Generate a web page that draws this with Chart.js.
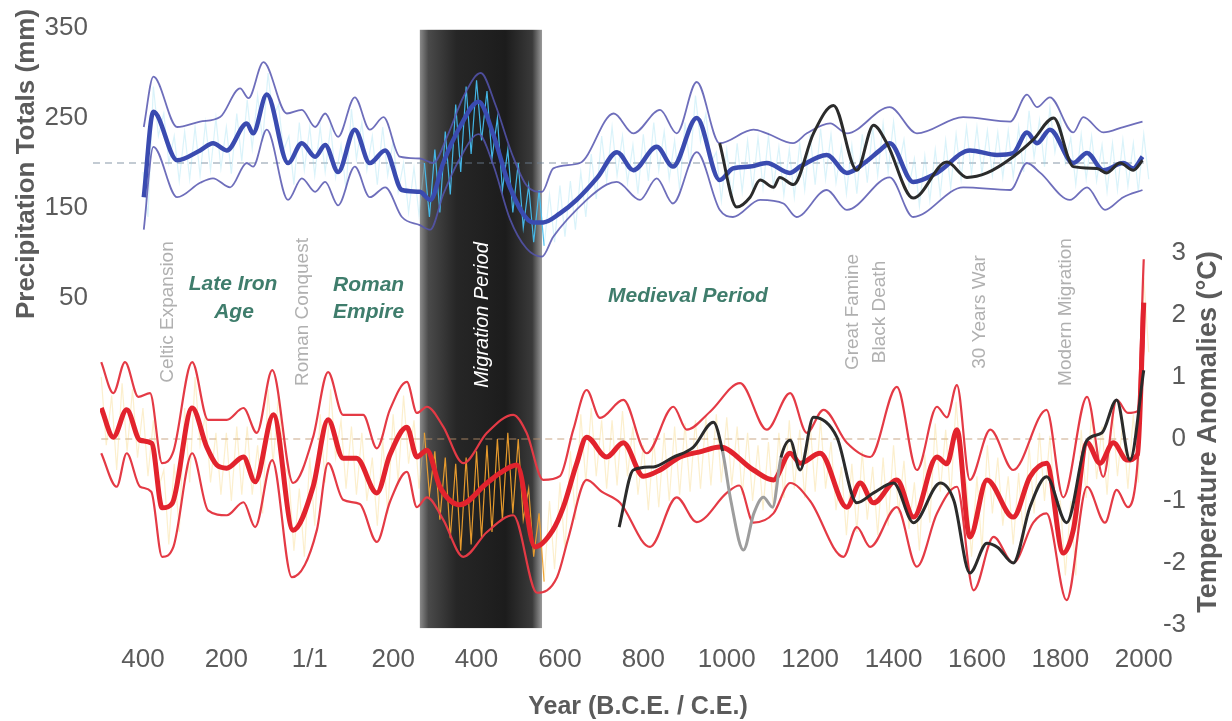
<!DOCTYPE html>
<html>
<head>
<meta charset="utf-8">
<script src="https://cdn.jsdelivr.net/npm/chart.js@4.4.1/dist/chart.umd.min.js"></script>
<style>
  html, body { margin: 0; padding: 0; background: #fff; }
  #wrap { width: 1232px; height: 721px; position: relative; }
</style>
</head>
<body>
<div id="wrap"><canvas id="chart"></canvas></div>
<script>
// ---- data (years CE, negative = BCE) ----
const xTicks = [-400, -200, 0, 200, 400, 600, 800, 1000, 1200, 1400, 1600, 1800, 2000];
const precipTicks = [50, 150, 250, 350];
const tempTicks = [-3, -2, -1, 0, 1, 2, 3];

// precipitation, 60-yr smoothed (mm)
const precipYears = [-398,-375,-318,-263,-232,-199,-151,-136,-103,-52,-19,13,37,68,108,144,181,221,264,289,320,360,405,440,480,536,560,600,640,690,737,776,832,871,928,983,1015,1056,1096,1151,1176,1240,1288,1330,1367,1391,1447,1504,1583,1648,1687,1720,1744,1775,1831,1864,1903,1951,1975,1997];
const precipSmooth = [162,257,203,214,222,214,244,233,276,200,222,207,220,190,237,200,214,170,168,159,200,240,268,232,173,134,134,144,159,184,212,192,218,196,250,181,194,196,200,189,196,209,189,200,214,222,179,189,214,209,211,234,222,237,200,211,192,200,194,207];

const precipUpperYears = [-398,-375,-318,-263,-215,-167,-147,-111,-55,-19,13,37,68,108,144,177,216,264,296,330,370,410,445,485,520,557,584,648,729,776,840,880,928,983,1064,1096,1159,1192,1248,1288,1391,1456,1567,1680,1720,1744,1775,1831,1855,1903,1951,1997];
const precipUpper = [240,296,240,246,251,283,272,312,255,259,240,255,229,273,237,251,207,205,200,230,275,300,265,210,175,168,194,200,255,233,259,233,290,222,237,233,222,233,244,233,262,233,251,246,276,262,273,234,251,234,240,246];

const precipLowerYears = [-398,-375,-318,-263,-232,-191,-151,-136,-103,-52,-19,13,37,68,108,144,181,221,264,289,320,360,405,440,480,520,557,584,664,712,736,792,832,871,928,983,1015,1080,1136,1167,1240,1288,1391,1447,1567,1680,1720,1752,1823,1864,1907,1951,1997];
const precipLower = [126,218,162,178,183,173,200,196,237,159,183,168,179,153,196,162,173,140,131,126,165,205,232,198,138,105,96,118,159,176,179,159,183,155,212,148,140,159,155,140,170,148,184,140,173,170,200,189,159,173,148,162,170];

// second precipitation record (black)
const precipBlackYears = [983,1024,1056,1080,1112,1127,1160,1208,1256,1312,1352,1384,1447,1528,1576,1624,1687,1735,1784,1831,1888,1911,1943,1975,1997];
const precipBlack = [222,151,162,181,173,184,176,233,264,192,242,222,161,201,184,189,207,226,250,196,194,189,200,192,203];

// temperature anomalies, 60-yr smoothed (deg C)
const tempYears = [-500,-471,-439,-407,-379,-354,-330,-282,-247,-223,-199,-159,-131,-87,-40,8,44,80,112,161,192,233,257,281,312,360,425,456,497,540,583,608,640,664,712,752,800,840,888,940,983,1064,1112,1152,1176,1224,1288,1320,1352,1408,1448,1504,1528,1552,1583,1624,1687,1727,1767,1807,1831,1864,1895,1927,1960,1985,2000];
const tempSmooth = [0.5,0.03,0.47,-0.02,-0.07,-1.11,-1.04,0.5,-0.13,-0.42,-0.47,-0.29,-0.69,0.39,-1.47,-0.77,0.31,-0.31,-0.31,-0.87,-0.26,0.19,-0.29,-0.18,-0.77,-1.06,-0.71,-0.55,-0.42,-1.74,-1.47,-1.1,-0.4,0.03,-0.29,-0.06,-0.6,-0.5,-0.29,-0.2,-0.13,-0.5,-0.66,-0.23,-0.39,-0.23,-1.1,-0.71,-1.03,-0.66,-1.26,-0.29,-0.4,0.15,-1.58,-0.66,-1.26,-0.61,-0.39,-1.84,-1.47,-0.06,-0.39,-0.06,-0.34,-0.25,2.2];

const tempUpperYears = [-500,-471,-443,-411,-383,-354,-327,-282,-244,-199,-159,-127,-90,-40,8,44,80,128,161,192,233,257,281,320,368,425,488,520,560,600,632,664,696,752,808,872,904,960,1032,1096,1152,1192,1232,1288,1344,1408,1456,1504,1528,1552,1583,1632,1687,1767,1807,1864,1903,1935,1962,1985,2000];
const tempUpper = [1.24,0.74,1.24,0.68,0.74,-0.39,-0.2,1.24,0.31,0.31,0.5,0.1,1.11,-0.71,0.03,1.08,0.39,0.39,-0.15,0.47,0.92,0.42,0.52,0.2,-0.39,0.1,0.39,0.1,-0.66,-0.6,0.15,0.79,0.34,0.63,-0.23,0.52,0.15,0.44,0.9,0.15,0.74,0.1,0.47,-0.06,-0.29,0.84,-0.5,0.52,0.35,0.87,-0.66,0.15,-0.5,0.47,-0.94,0.68,-0.61,0.63,0.42,0.45,2.9];

const tempLowerYears = [-500,-463,-439,-407,-380,-354,-327,-282,-244,-199,-159,-131,-90,-43,17,44,80,120,161,192,233,257,281,320,368,425,488,545,593,620,664,700,744,816,880,928,1000,1030,1064,1112,1152,1200,1280,1312,1344,1408,1456,1504,1552,1592,1640,1687,1735,1767,1815,1864,1907,1935,1962,1985,2000];
const tempLower = [-0.23,-0.77,-0.23,-0.77,-0.85,-1.9,-1.74,-0.23,-1.15,-1.23,-1.02,-1.42,-0.34,-2.23,-1.47,-0.39,-0.98,-1.05,-1.66,-1.02,-0.53,-1.1,-0.94,-1.3,-1.9,-1.5,-1.23,-2.48,-2.23,-1.6,-0.66,-0.85,-1.03,-1.74,-0.94,-1.34,-0.87,-0.75,-1.35,-1.2,-0.71,-1.0,-1.9,-1.42,-1.74,-1.1,-2.06,-1.2,-0.77,-2.44,-1.58,-2.0,-1.35,-1.2,-2.6,-0.77,-1.35,-0.82,-1.1,-0.4,1.6];

// second temperature record (black, grey where faded)
const tempBlackYears = [742,776,824,870,920,968,990,1010,1040,1065,1088,1110,1130,1152,1176,1208,1264,1312,1352,1400,1448,1512,1545,1583,1624,1650,1687,1727,1767,1815,1864,1900,1935,1967,2000];
const tempBlack = [-1.42,-0.5,-0.45,-0.3,-0.13,0.27,-0.2,-1.0,-1.79,-1.2,-0.94,-1.1,-0.3,-0.02,-0.5,0.35,0.03,-1.03,-0.87,-0.71,-1.35,-0.71,-1.0,-2.16,-1.68,-1.75,-2.0,-1.1,-0.61,-1.35,-0.02,0.1,0.63,-0.34,1.11];

// annual spread, high / low per 25-yr step
const noiseYears = [-500,-475,-450,-425,-400,-375,-350,-325,-300,-275,-250,-225,-200,-175,-150,-125,-100,-75,-50,-25,0,25,50,75,100,125,150,175,200,225,250,275,300,325,350,375,400,425,450,475,500,525,550,575,600,625,650,675,700,725,750,775,800,825,850,875,900,925,950,975,1000,1025,1050,1075,1100,1125,1150,1175,1200,1225,1250,1275,1300,1325,1350,1375,1400,1425,1450,1475,1500,1525,1550,1575,1600,1625,1650,1675,1700,1725,1750,1775,1800,1825,1850,1875,1900,1925,1950,1975,2000];
const precipNoiseHi = [190,285,255,230,235,240,245,250,240,255,270,275,300,265,230,245,240,240,240,220,260,245,230,240,225,200,195,200,215,235,265,285,292,280,250,215,200,175,170,165,175,180,190,210,230,240,230,220,232,245,235,225,245,275,255,212,215,222,225,228,230,218,215,222,232,238,232,218,220,232,240,244,246,226,205,208,215,225,232,240,240,236,234,236,240,258,248,262,250,228,232,230,220,222,226,222,232];
const precipNoiseLo = [140,230,200,180,182,186,192,194,188,202,216,224,250,214,176,192,186,190,184,170,204,192,176,186,168,145,142,140,145,165,190,210,225,205,170,145,128,112,108,112,118,126,140,160,180,186,178,166,180,192,182,170,196,224,200,158,160,168,170,172,174,164,162,170,176,182,178,166,166,178,186,190,194,174,152,158,164,172,182,188,188,186,184,184,190,206,196,212,200,176,182,180,168,170,174,168,182];
const tempNoiseHi = [1.0,0.7,0.9,0.8,0.5,0.3,-0.5,-0.4,0.5,1.0,0.4,0.1,0.1,0.2,0.2,-0.1,0.8,0.7,-0.6,-0.8,-0.3,0.4,0.8,0.3,0.2,0.1,-0.3,0.0,0.4,0.7,0.3,0.1,-0.2,-0.3,-0.4,-0.3,-0.2,-0.1,0.0,0.1,0.0,-0.8,-1.2,-1.0,-0.7,-0.2,0.4,0.5,0.3,0.3,0.45,0.2,-0.1,0.0,0.1,0.2,0.25,0.3,0.35,0.4,0.35,0.2,0.1,-0.1,-0.05,0.1,0.3,0.15,0.25,0.3,-0.05,-0.45,-0.4,-0.2,-0.45,-0.3,-0.1,-0.35,-0.7,-0.25,0.25,0.15,0.6,-0.7,-0.6,-0.1,-0.3,-0.6,-0.55,-0.1,0.1,0.05,-1.0,-1.0,0.15,0.45,0.2,0.45,0.3,0.4,2.6];
const tempNoiseLo = [-0.1,-0.5,-0.2,-0.3,-0.6,-0.8,-1.7,-1.5,-0.7,-0.1,-0.7,-0.9,-1.0,-0.9,-0.9,-1.2,-0.4,-0.4,-1.8,-1.9,-1.4,-0.7,-0.3,-0.8,-0.9,-1.0,-1.4,-1.2,-0.7,-0.4,-0.8,-0.9,-1.3,-1.6,-1.8,-1.7,-1.6,-1.5,-1.3,-1.2,-1.3,-1.9,-2.3,-2.1,-1.8,-1.3,-0.7,-0.6,-0.8,-0.75,-0.6,-0.9,-1.15,-1.1,-1.0,-0.9,-0.85,-0.8,-0.75,-0.7,-0.75,-0.9,-1.0,-1.15,-1.15,-0.95,-0.8,-0.95,-0.85,-0.8,-1.15,-1.55,-1.5,-1.3,-1.55,-1.4,-1.2,-1.45,-1.8,-1.35,-0.85,-0.95,-0.45,-1.9,-1.8,-1.2,-1.4,-1.7,-1.65,-1.2,-1.0,-1.05,-2.2,-2.2,-0.95,-0.65,-0.9,-0.6,-0.8,-0.7,1.4];

// shaded Migration Period and the text on the figure
const bandYears = [264, 557];
const bandTopPrecip = 348;
const bandBottomTemp = -3.05;
const eventNames = ["Celtic Expansion", "Roman Conquest", "Great Famine", "Black Death", "30 Years War", "Modern Migration"];
const eventYears = [-340, -16, 1303, 1367, 1607, 1814];
const fadedBlackYears = [990, 1130];

// ---- helpers ----
const FONT = "'Liberation Sans', Arial, Helvetica, sans-serif";
const GREY_TEXT = "#5b5b5b";

function pts(years, vals) {
  return years.map((x, i) => ({ x: x, y: vals[i] }));
}
function zigzag(years, hi, lo) {
  const out = [];
  years.forEach((x, i) => {
    out.push({ x: x, y: hi[i] });
    out.push({ x: x + 12, y: lo[i] });
  });
  return out;
}
function inBand(x) {
  return x >= bandYears[0] && x <= bandYears[1];
}
function vText(ctx, txt, x, y, font, color) {
  ctx.save();
  ctx.translate(x, y);
  ctx.rotate(-Math.PI / 2);
  ctx.font = font;
  ctx.fillStyle = color;
  ctx.textAlign = "center";
  ctx.textBaseline = "middle";
  ctx.fillText(txt, 0, 0);
  ctx.restore();
}
// keep the plot area exactly where the layout padding puts it
function noPad(axis) {
  axis.paddingTop = 0;
  axis.paddingBottom = 0;
  axis.paddingLeft = 0;
  axis.paddingRight = 0;
}

const decor = {
  id: "decor",
  beforeDatasetsDraw(chart) {
    const ctx = chart.ctx;
    const xs = chart.scales.x, yP = chart.scales.yP, yT = chart.scales.yT;
    const bx0 = xs.getPixelForValue(bandYears[0]);
    const bx1 = xs.getPixelForValue(bandYears[1]);
    const by0 = yP.getPixelForValue(bandTopPrecip);
    const by1 = yT.getPixelForValue(bandBottomTemp);
    ctx.save();
    const g = ctx.createLinearGradient(bx0, 0, bx1, 0);
    g.addColorStop(0, "#8a8a8a");
    g.addColorStop(0.07, "#4a4a4a");
    g.addColorStop(0.3, "#262626");
    g.addColorStop(0.7, "#1c1c1c");
    g.addColorStop(0.92, "#3a3a3a");
    g.addColorStop(1, "#9a9a9a");
    ctx.fillStyle = g;
    ctx.fillRect(bx0, by0, bx1 - bx0, by1 - by0);

    // reference lines
    ctx.setLineDash([7, 5]);
    ctx.lineWidth = 1.5;
    ctx.strokeStyle = "rgba(110,130,150,0.55)";
    ctx.beginPath();
    ctx.moveTo(chart.chartArea.left - 7, yP.getPixelForValue(200));
    ctx.lineTo(xs.getPixelForValue(2000), yP.getPixelForValue(200));
    ctx.stroke();
    ctx.strokeStyle = "rgba(190,150,110,0.55)";
    ctx.beginPath();
    ctx.moveTo(xs.getPixelForValue(-500), yT.getPixelForValue(0));
    ctx.lineTo(xs.getPixelForValue(2000), yT.getPixelForValue(0));
    ctx.stroke();
    ctx.restore();
  },
  afterDatasetsDraw(chart) {
    const ctx = chart.ctx;
    const xs = chart.scales.x;
    eventNames.forEach((name, i) => {
      vText(ctx, name, xs.getPixelForValue(eventYears[i]), 312, "19px " + FONT, "#b0b0b0");
    });
    vText(ctx, "Migration Period", xs.getPixelForValue(415), 315, "italic 20px " + FONT, "#ffffff");

    ctx.save();
    ctx.fillStyle = "#3f7d6c";
    ctx.font = "italic bold 21px " + FONT;
    ctx.textBaseline = "middle";
    ctx.textAlign = "center";
    ctx.fillText("Late Iron", 233, 284);
    ctx.fillText("Age", 234, 312);
    ctx.fillText("Medieval Period", 688, 296);
    ctx.textAlign = "left";
    ctx.fillText("Roman", 333, 285);
    ctx.fillText("Empire", 333, 312);
    ctx.restore();
  },
  afterDraw(chart) {
    const ctx = chart.ctx;
    vText(ctx, "Precipitation Totals (mm)", 27, 164, "bold 26px " + FONT, GREY_TEXT);
    vText(ctx, "Temperature Anomalies (\u00B0C)", 1209, 432, "bold 27px " + FONT, GREY_TEXT);
    ctx.save();
    ctx.font = "bold 25px " + FONT;
    ctx.fillStyle = GREY_TEXT;
    ctx.textAlign = "center";
    ctx.textBaseline = "middle";
    ctx.fillText("Year (B.C.E. / C.E.)", 638, 707);
    ctx.restore();
  }
};

Chart.defaults.font.family = FONT;

const lineBase = { pointRadius: 0, fill: false, cubicInterpolationMode: "monotone" };

new Chart(document.getElementById("chart"), {
  type: "line",
  data: {
    datasets: [
      Object.assign({}, lineBase, {
        label: "Precipitation (second record)", yAxisID: "yP",
        data: pts(precipBlackYears, precipBlack), borderColor: "#2b2b2b", borderWidth: 3
      }),
      Object.assign({}, lineBase, {
        label: "Temperature (second record)", yAxisID: "yT",
        data: pts(tempBlackYears, tempBlack), borderColor: "#2b2b2b", borderWidth: 3,
        segment: {
          borderColor: c => (c.p0.parsed.x >= fadedBlackYears[0] && c.p1.parsed.x <= fadedBlackYears[1]) ? "#9d9d9d" : undefined
        }
      }),
      Object.assign({}, lineBase, {
        label: "Precipitation", yAxisID: "yP",
        data: pts(precipYears, precipSmooth), borderColor: "#3a4bb0", borderWidth: 4.5
      }),
      Object.assign({}, lineBase, {
        label: "Temperature", yAxisID: "yT",
        data: pts(tempYears, tempSmooth), borderColor: "#e2232d", borderWidth: 5
      }),
      Object.assign({}, lineBase, {
        label: "Precipitation upper", yAxisID: "yP",
        data: pts(precipUpperYears, precipUpper), borderColor: "rgba(85,85,175,0.85)", borderWidth: 1.8
      }),
      Object.assign({}, lineBase, {
        label: "Precipitation lower", yAxisID: "yP",
        data: pts(precipLowerYears, precipLower), borderColor: "rgba(85,85,175,0.85)", borderWidth: 1.8
      }),
      Object.assign({}, lineBase, {
        label: "Temperature upper", yAxisID: "yT",
        data: pts(tempUpperYears, tempUpper), borderColor: "#e43a45", borderWidth: 2.2
      }),
      Object.assign({}, lineBase, {
        label: "Temperature lower", yAxisID: "yT",
        data: pts(tempLowerYears, tempLower), borderColor: "#e43a45", borderWidth: 2.2
      }),
      {
        label: "Precipitation annual", yAxisID: "yP", pointRadius: 0, tension: 0,
        data: zigzag(noiseYears.slice(4), precipNoiseHi, precipNoiseLo),
        borderWidth: 1.2, borderColor: "rgba(150,220,242,0.35)",
        segment: { borderColor: c => inBand(c.p0.parsed.x) ? "rgba(70,190,240,0.95)" : undefined }
      },
      {
        label: "Temperature annual", yAxisID: "yT", pointRadius: 0, tension: 0,
        data: zigzag(noiseYears, tempNoiseHi, tempNoiseLo),
        borderWidth: 1.2, borderColor: "rgba(246,205,100,0.32)",
        segment: { borderColor: c => inBand(c.p0.parsed.x) ? "rgba(240,160,45,0.95)" : undefined }
      }
    ]
  },
  options: {
    responsive: true,
    maintainAspectRatio: false,
    animation: false,
    devicePixelRatio: 1,
    layout: { padding: { top: 20, right: 46, bottom: 0, left: 0 } },
    plugins: { legend: { display: false }, tooltip: { enabled: false } },
    scales: {
      x: {
        type: "linear", position: "bottom", min: -503, max: 2015, bounds: "data",
        grid: { display: false, drawTicks: false }, border: { display: false },
        afterBuildTicks: axis => { axis.ticks = xTicks.map(v => ({ value: v })); },
        afterFit: axis => { axis.height = 81; noPad(axis); },
        ticks: {
          autoSkip: false, maxRotation: 0, padding: 4, color: GREY_TEXT,
          font: { size: 26 },
          callback: v => v === 0 ? "1/1" : String(Math.abs(v))
        }
      },
      yP: {
        type: "linear", position: "left", min: -330, max: 358.9, bounds: "data",
        grid: { display: false, drawTicks: false }, border: { display: false },
        afterBuildTicks: axis => { axis.ticks = precipTicks.map(v => ({ value: v })); },
        afterFit: axis => { axis.width = 100; noPad(axis); },
        ticks: { padding: 12, color: GREY_TEXT, font: { size: 26 } }
      },
      yT: {
        type: "linear", position: "right", min: -3.242, max: 6.758, bounds: "data",
        grid: { display: false, drawTicks: false }, border: { display: false },
        afterBuildTicks: axis => { axis.ticks = tempTicks.map(v => ({ value: v })); },
        afterFit: axis => { axis.width = 36; noPad(axis); },
        ticks: { crossAlign: "far", color: GREY_TEXT, font: { size: 26 } }
      }
    }
  },
  plugins: [decor]
});
</script>
</body>
</html>
